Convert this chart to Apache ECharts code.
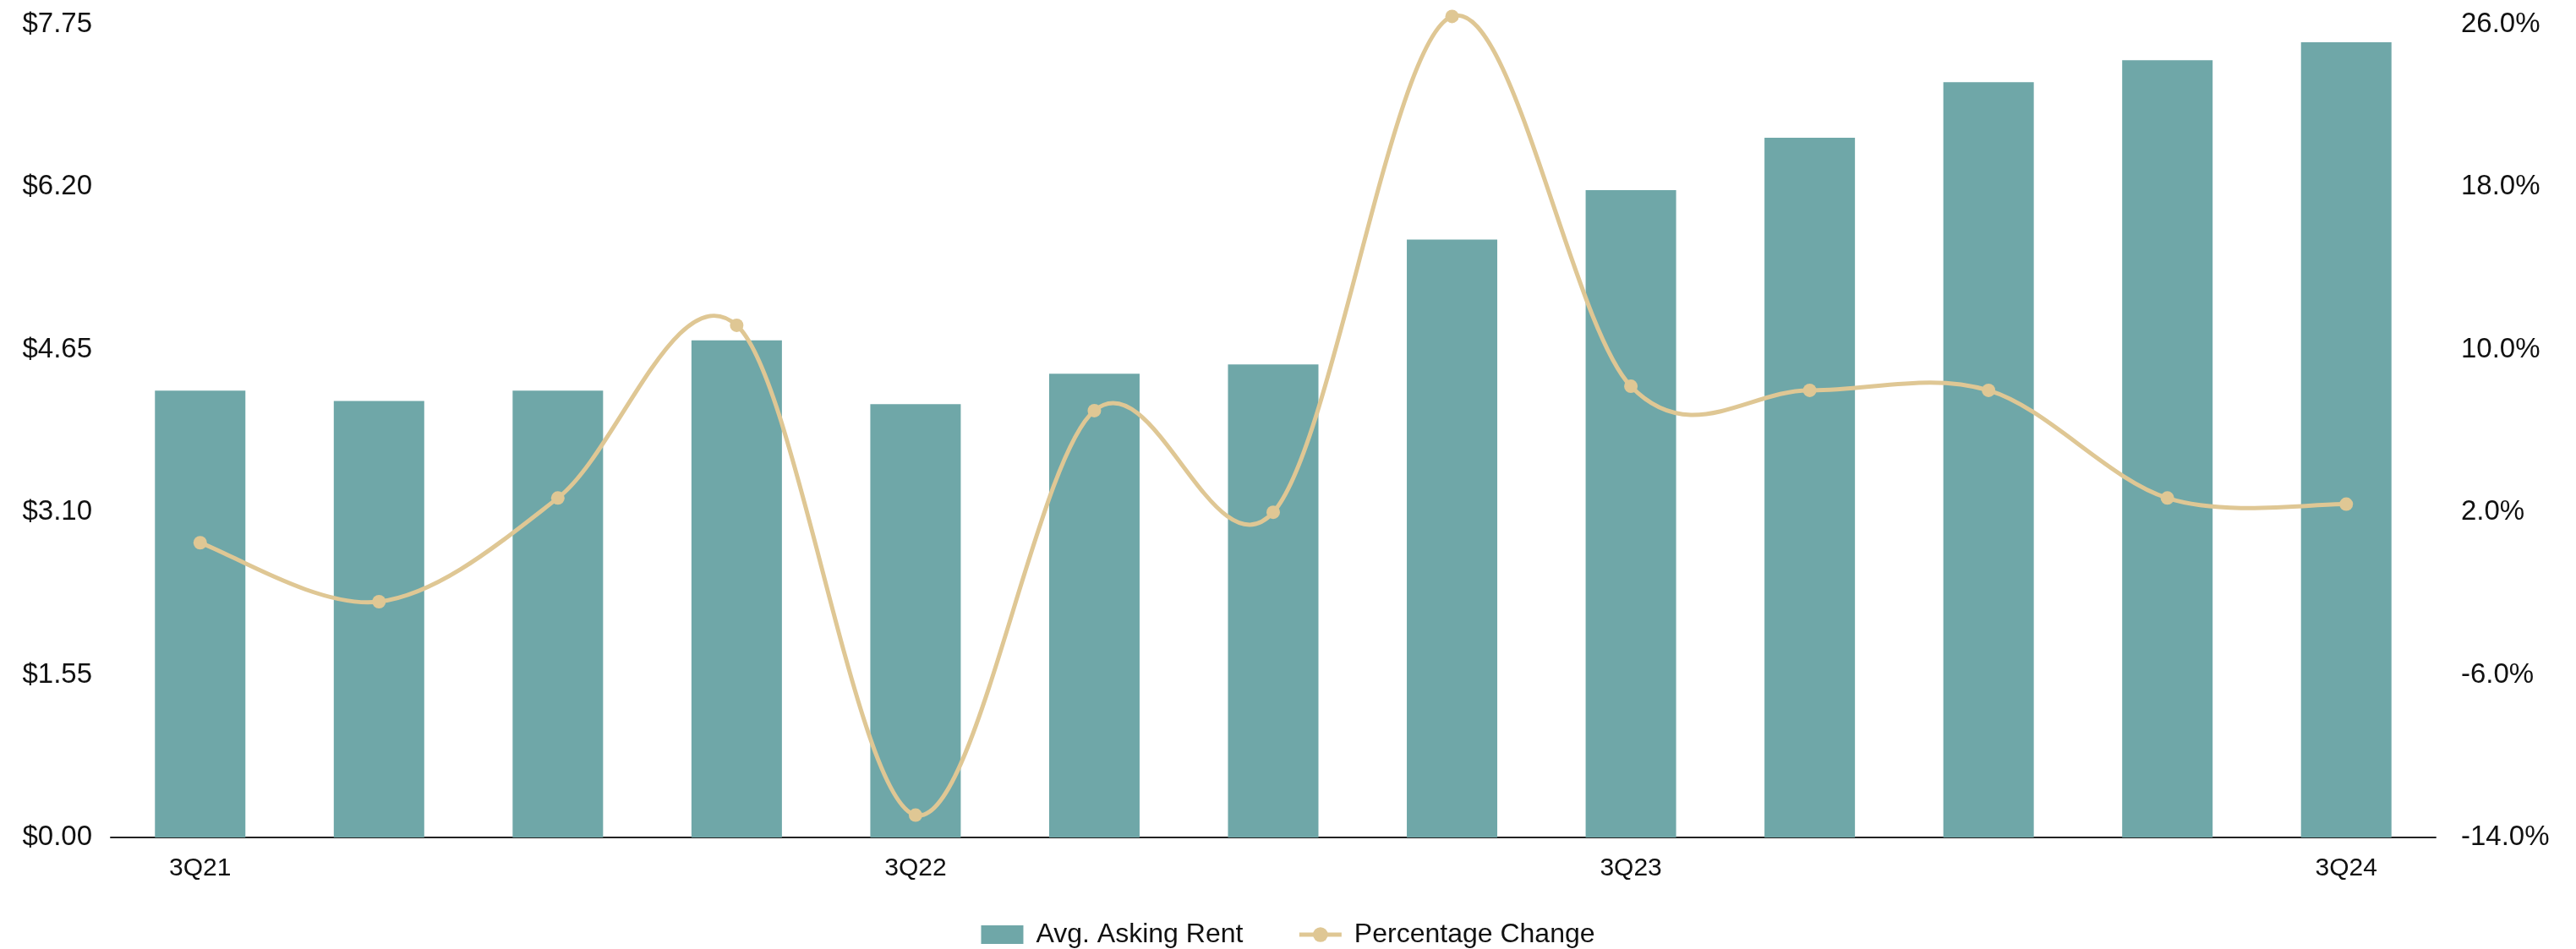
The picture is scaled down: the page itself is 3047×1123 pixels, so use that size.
<!DOCTYPE html>
<html>
<head>
<meta charset="utf-8">
<script src="https://cdn.jsdelivr.net/npm/echarts@6/dist/echarts.min.js"></script>
<style>
html,body{margin:0;padding:0;background:#fff;}
#chart{width:3047px;height:1123px;}
</style>
</head>
<body>
<div id="chart"></div>
<script>
var categories = ['3Q21','4Q21','1Q22','2Q22','3Q22','4Q22','1Q23','2Q23','3Q23','4Q23','1Q24','2Q24','3Q24'];
var askingRent = [4.26, 4.16, 4.26, 4.74, 4.13, 4.42, 4.51, 5.70, 6.17, 6.67, 7.20, 7.41, 7.58];
var pctChange = [0.5, -2.4, 2.7, 11.2, -12.9, 7.0, 2.0, 26.4, 8.2, 8.0, 8.0, 2.7, 2.4];
var leftTicks = {min: 0, max: 7.75, interval: 1.55};
var rightTicks = {min: -14, max: 26, interval: 8};

var lineColor = '#dfc794';
var barColor = '#6fa7a8';
var chart = echarts.init(document.getElementById('chart'));
var font = '"Liberation Sans", Arial, sans-serif';

function renderCurve(params, api) {
  var i = params.dataIndex;
  var n = pctChange.length;
  if (i >= n - 1) return null;
  var p = function (k) {
    k = Math.max(0, Math.min(n - 1, k));
    return api.coord([k, pctChange[k]]);
  };
  var p0 = p(i - 1), p1 = p(i), p2 = p(i + 1), p3 = p(i + 2);
  var t = 1 / 6;
  var c1 = [p1[0] + (p2[0] - p0[0]) * t, p1[1] + (p2[1] - p0[1]) * t];
  var c2 = [p2[0] - (p3[0] - p1[0]) * t, p2[1] - (p3[1] - p1[1]) * t];
  return {
    type: 'bezierCurve',
    z2: 10,
    shape: {x1: p1[0], y1: p1[1], x2: p2[0], y2: p2[1], cpx1: c1[0], cpy1: c1[1], cpx2: c2[0], cpy2: c2[1]},
    style: {stroke: lineColor, lineWidth: 5, fill: null}
  };
}

chart.setOption({
  animation: false,
  backgroundColor: '#ffffff',
  grid: {left: 131, right: 166, top: 29, bottom: 132},
  legend: {
    data: [
      {name: 'Avg. Asking Rent', icon: 'rect'},
      {name: 'Percentage Change', lineStyle: {opacity: 1, width: 5, color: lineColor}}
    ],
    left: 'center',
    top: 1085,
    itemWidth: 50,
    itemHeight: 22,
    itemGap: 64,
    textStyle: {fontFamily: font, fontSize: 32, color: '#111', padding: [0, 0, 0, 10]}
  },
  xAxis: {
    type: 'category',
    data: categories,
    axisLine: {show: true, lineStyle: {color: '#222', width: 2}},
    axisTick: {show: false},
    axisLabel: {interval: 3, margin: 22, fontFamily: font, fontSize: 30, color: '#111'}
  },
  yAxis: [
    {
      type: 'value',
      min: leftTicks.min, max: leftTicks.max, interval: leftTicks.interval,
      splitLine: {show: false},
      axisLine: {show: false},
      axisTick: {show: false},
      axisLabel: {margin: 22, fontFamily: font, fontSize: 33, color: '#111',
        formatter: function (v) { return '$' + v.toFixed(2); }}
    },
    {
      type: 'value',
      min: rightTicks.min, max: rightTicks.max, interval: rightTicks.interval,
      splitLine: {show: false},
      axisLine: {show: false},
      axisTick: {show: false},
      axisLabel: {margin: 30, fontFamily: font, fontSize: 33, color: '#111', align: 'left',
        formatter: function (v) { return v.toFixed(1) + '%'; }}
    }
  ],
  series: [
    {
      name: 'Avg. Asking Rent',
      type: 'bar',
      z: 2,
      data: askingRent,
      barWidth: 107,
      itemStyle: {color: barColor}
    },
    {
      name: 'Percentage Change curve',
      type: 'custom',
      z: 5,
      yAxisIndex: 1,
      clip: false,
      data: pctChange.map(function (v, i) { return [i, v]; }),
      renderItem: renderCurve,
      silent: true
    },
    {
      name: 'Percentage Change',
      type: 'line',
      z: 6,
      yAxisIndex: 1,
      data: pctChange,
      clip: false,
      symbol: 'circle',
      symbolSize: 16,
      lineStyle: {color: lineColor, width: 5, opacity: 0},
      itemStyle: {color: lineColor}
    }
  ]
});
</script>
</body>
</html>
